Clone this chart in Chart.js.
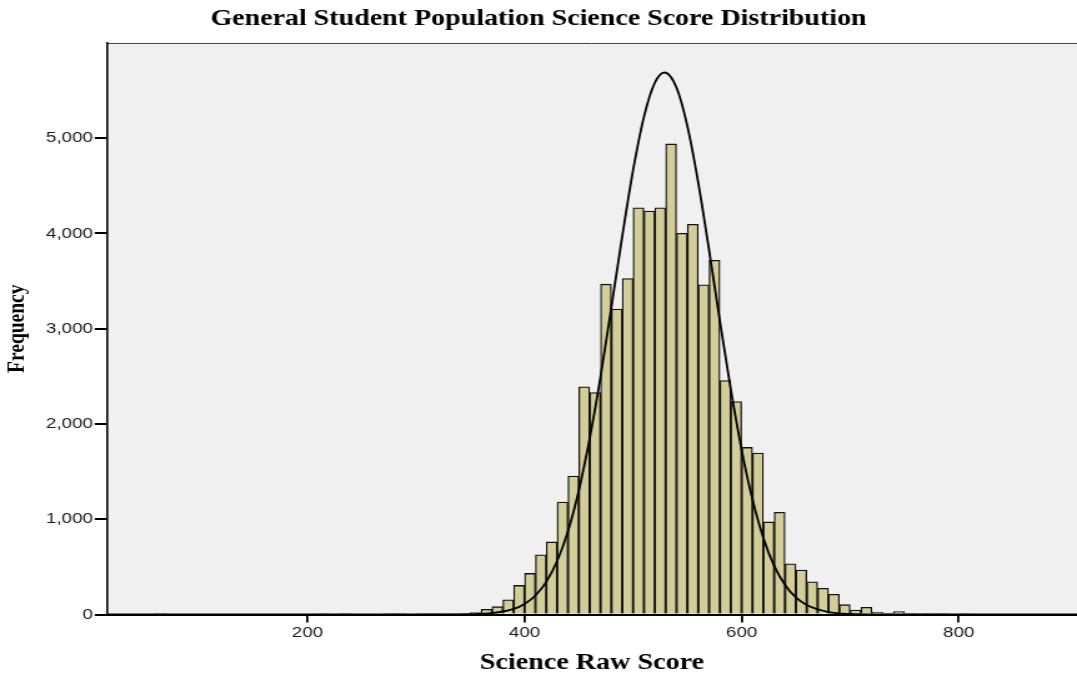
<!DOCTYPE html>
<html>
<head>
<meta charset="utf-8">
<title>General Student Population Science Score Distribution</title>
<script src="https://cdn.jsdelivr.net/npm/chart.js@4.4.1/dist/chart.umd.min.js"></script>
<style>
  html, body { margin: 0; padding: 0; background: #fff; }
</style>
</head>
<body>
<!-- the source picture is stretched sideways, so the canvas is drawn narrower and widened by its style -->
<canvas id="chart" width="862" height="677" style="display:block;width:1077px;height:677px"></canvas>
<script>
// histogram, 10 point bins (midpoints), empty bins left out
const binMids = [65, 215, 235, 275, 285, 305, 315, 325, 335, 345, 355, 365, 375, 385, 395,
  405, 415, 425, 435, 445, 455, 465, 475, 485, 495, 505, 515, 525, 535, 545, 555, 565, 575,
  585, 595, 605, 615, 625, 635, 645, 655, 665, 675, 685, 695, 705, 715, 725, 735, 745, 755,
  765, 775, 785, 805]
const counts = [2, 3, 3, 3, 3, 6, 6, 5, 4, 12, 20, 54, 82, 155, 305,
  431, 626, 762, 1181, 1453, 2390, 2330, 3468, 3206, 3527, 4270, 4236, 4270, 4940, 4002, 4096, 3461, 3719,
  2455, 2236, 1754, 1694, 972, 1073, 532, 466, 344, 274, 211, 103, 47, 75, 26, 15, 30, 8,
  3, 6, 3, 3]

// normal curve, points
const curveX = [15, 300, 330, 350, 370, 390, 400, 410, 420, 430, 440, 450, 460, 470, 480, 490,
  500, 510, 520, 529, 540, 550, 560, 570, 580, 590, 600, 610, 620, 630, 640, 650, 660, 680,
  700, 730, 760, 909]
const curveY = [0, 0, 1, 3, 14, 59, 111, 200, 343, 561, 875, 1302, 1848, 2498, 3228, 3972,
  4665, 5225, 5582, 5690, 5530, 5127, 4535, 3825, 3077, 2363, 1729, 1208, 804, 510, 310, 179, 99, 26,
  6, 1, 0, 0]

const xTicks = [200, 400, 600, 800]
const yTicks = [0, 1000, 2000, 3000, 4000, 5000]

const sans = "'Liberation Sans', Arial, sans-serif"
const serif = "'Liberation Serif', 'Times New Roman', serif"

// grey plot background with a thin top edge
const plotBg = {
  id: 'plotBg',
  beforeDraw(chart) {
    const { ctx, chartArea: a } = chart
    ctx.save()
    ctx.fillStyle = '#f0f0f0'
    ctx.fillRect(a.left, a.top, a.right - a.left, a.bottom - a.top)
    ctx.strokeStyle = '#444'
    ctx.lineWidth = 1
    ctx.beginPath()
    ctx.moveTo(a.left, a.top + 0.5)
    ctx.lineTo(a.right, a.top + 0.5)
    ctx.stroke()
    ctx.restore()
  }
}

new Chart(document.getElementById('chart'), {
  type: 'bar',
  data: {
    datasets: [
      {
        type: 'line',
        data: curveX.map((x, i) => ({ x: x, y: curveY[i] })),
        borderColor: '#000',
        borderWidth: 1.8,
        pointRadius: 0,
        fill: false,
        cubicInterpolationMode: 'monotone',
        order: 0
      },
      {
        type: 'bar',
        data: binMids.map((x, i) => ({ x: x, y: counts[i] })),
        backgroundColor: '#d3ce99',
        borderColor: '#111',
        borderWidth: 1.3,
        borderSkipped: 'start',
        barPercentage: 1,
        categoryPercentage: 1,
        order: 1
      }
    ]
  },
  options: {
    responsive: false,
    animation: false,
    devicePixelRatio: 1,
    layout: { padding: 0 },
    plugins: {
      legend: { display: false },
      tooltip: { enabled: false },
      title: {
        display: true,
        text: 'General Student Population Science Score Distribution',
        color: '#000',
        font: { family: serif, size: 22.4, weight: 'bold', lineHeight: 1.2 },
        padding: { top: 5.6, bottom: 10.5 }
      }
    },
    scales: {
      x: {
        type: 'linear',
        min: 15,
        max: 909,
        offset: false,
        afterBuildTicks: axis => { axis.ticks = xTicks.map(v => ({ value: v })) },
        afterFit: axis => { axis.height = 62.5 },
        grid: { offset: false, drawOnChartArea: false, drawTicks: true, tickLength: 8, color: '#000', lineWidth: 1.8 },
        border: { display: true, color: '#000', width: 2 },
        ticks: {
          color: '#1a1a1a',
          font: { family: sans, size: 15 },
          padding: 1.5,
          maxRotation: 0,
          autoSkip: false,
          callback: v => String(v)
        },
        title: {
          display: true,
          text: 'Science Raw Score',
          color: '#000',
          font: { family: serif, size: 22.5, weight: 'bold', lineHeight: 1.2 },
          padding: { top: 0, bottom: 0 }
        }
      },
      y: {
        min: 0,
        max: 6000,
        afterBuildTicks: axis => { axis.ticks = yTicks.map(v => ({ value: v })) },
        afterFit: axis => { axis.width = 85.4 },
        grid: { drawOnChartArea: false, drawTicks: true, tickLength: 9.6, color: '#000', lineWidth: 2 },
        border: { display: true, color: '#000', width: 1.6 },
        ticks: {
          color: '#1a1a1a',
          font: { family: sans, size: 15 },
          padding: 1.4,
          callback: v => v.toLocaleString('en-US')
        },
        title: {
          display: true,
          text: 'Frequency',
          color: '#000',
          font: { family: serif, size: 19.5, weight: 'bold', lineHeight: 1.2 },
          padding: { top: 2.6, bottom: 0 }
        }
      }
    }
  },
  plugins: [plotBg]
})
</script>
</body>
</html>
